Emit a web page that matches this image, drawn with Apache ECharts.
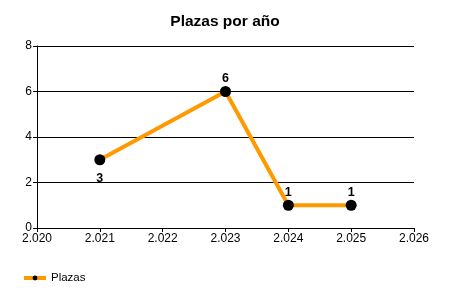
<!DOCTYPE html>
<html><head><meta charset="utf-8">
<script src="https://cdn.jsdelivr.net/npm/echarts@6/dist/echarts.min.js"></script>
<style>html,body{margin:0;padding:0;background:#fff}#c{width:450px;height:300px}</style>
</head><body><div id="c"></div>
<script>
var years = [2021, 2023, 2024, 2025];
var plazas = [3, 6, 1, 1];
var labelPos = ['bottom', 'top', 'top', 'top'];
var seriesName = 'Plazas';
var titleText = 'Plazas por año';

var chart = echarts.init(document.getElementById('c'));
var font = 'Liberation Sans, Arial, sans-serif';
chart.setOption({
  animation: false,
  title: { text: titleText, left: 'center', top: 9, textStyle: { fontFamily: font, fontSize: 15.5, fontWeight: 'bold', color: '#000' } },
  grid: { left: 37, right: 36, top: 46, bottom: 72 },
  legend: { left: 17, top: 267, itemWidth: 22, itemHeight: 6, lineStyle: { width: 4 },
    textStyle: { fontFamily: font, fontSize: 11.5, color: '#000' }, data: [seriesName] },
  xAxis: {
    type: 'value', min: 2020, max: 2026, interval: 1,
    axisLine: { lineStyle: { color: '#000' } },
    axisTick: { show: true, length: 4, lineStyle: { color: '#000' } },
    splitLine: { show: false },
    axisLabel: { color: '#000', fontFamily: font, fontSize: 12, margin: 5,
      formatter: function (v) { var s = String(v); return s.slice(0, 1) + '.' + s.slice(1); } }
  },
  yAxis: {
    type: 'value', min: 0, max: 8, interval: 2,
    axisLine: { show: true, lineStyle: { color: '#000' } },
    axisTick: { show: true, length: 4, lineStyle: { color: '#000' } },
    splitLine: { lineStyle: { color: '#000' } },
    axisLabel: { color: '#000', fontFamily: font, fontSize: 12, margin: 5 }
  },
  series: [{
    name: seriesName, type: 'line',
    data: years.map(function (y, i) {
      return { value: [y, plazas[i]], label: { position: labelPos[i], distance: labelPos[i] === 'top' ? 1 : 7 } };
    }),
    symbol: 'circle', symbolSize: 11,
    itemStyle: { color: '#000' },
    lineStyle: { color: '#FF9900', width: 4 },
    label: { show: true, fontFamily: font, fontSize: 12.5, fontWeight: 'bold', color: '#000',
      formatter: function (p) { return p.value[1]; } }
  }]
});
</script></body></html>
